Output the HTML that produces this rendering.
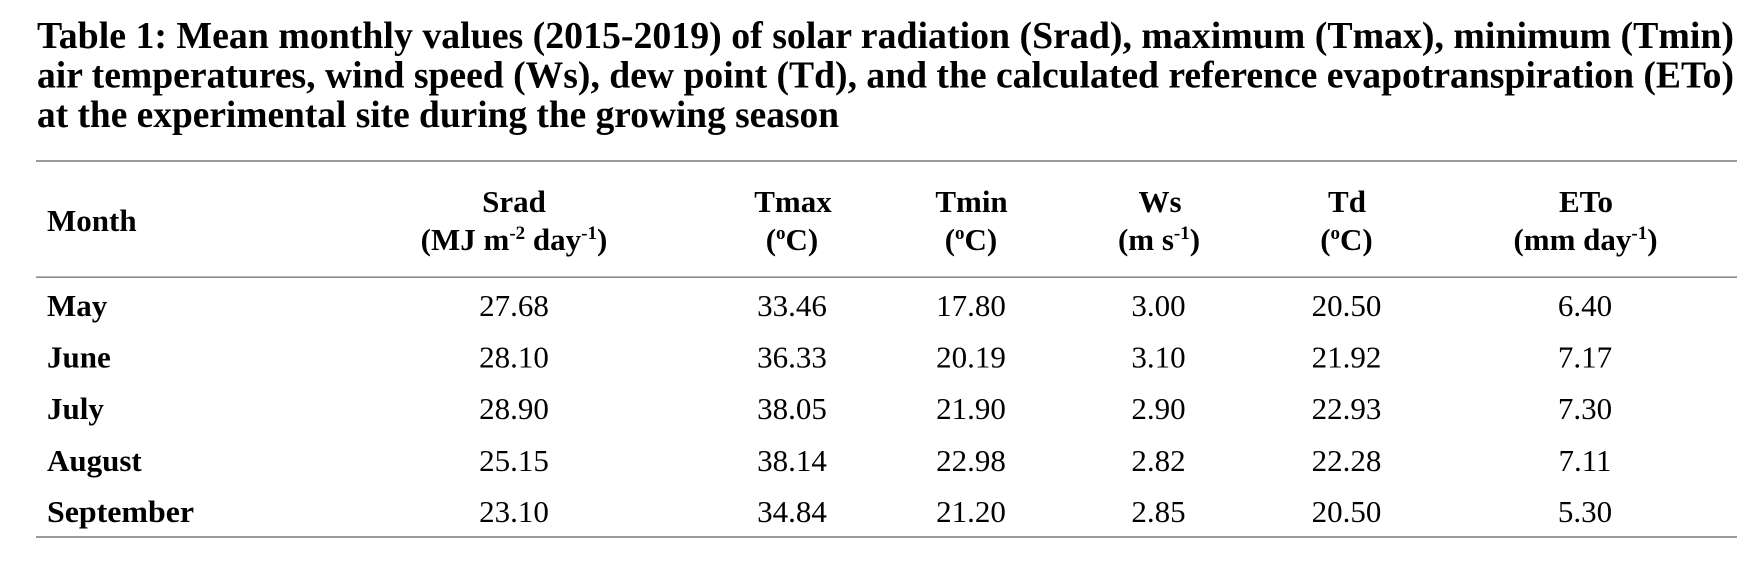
<!DOCTYPE html>
<html>
<head>
<meta charset="utf-8">
<style>
html,body{margin:0;padding:0;background:#fff;}
svg{display:block;}
.t{font-family:"Liberation Serif",serif;font-weight:bold;font-size:38px;fill:#000;}
.h{font-family:"Liberation Serif",serif;font-weight:bold;font-size:31px;fill:#000;}
.d{font-family:"Liberation Serif",serif;font-size:31px;fill:#000;}
</style>
</head>
<body>
<svg width="1752" height="562" viewBox="0 0 1752 562" xmlns="http://www.w3.org/2000/svg">
<rect width="1752" height="562" fill="#fff"/>
<!-- Title -->
<text class="t" x="37" y="48" textLength="1697" lengthAdjust="spacingAndGlyphs">Table 1: Mean monthly values (2015-2019) of solar radiation (Srad), maximum (Tmax), minimum (Tmin)</text>
<text class="t" x="37" y="87.5" textLength="1697" lengthAdjust="spacingAndGlyphs">air temperatures, wind speed (Ws), dew point (Td), and the calculated reference evapotranspiration (ETo)</text>
<text class="t" x="37" y="127" textLength="802" lengthAdjust="spacingAndGlyphs">at the experimental site during the growing season</text>

<!-- Rules -->
<rect x="36" y="160" width="1701" height="2" fill="#9a9a9a"/>
<rect x="36" y="276.5" width="1701" height="1.3" fill="#707070"/>
<rect x="36" y="536" width="1701" height="2" fill="#9a9a9a"/>

<!-- Header -->
<text class="h" x="47" y="231">Month</text>

<text class="h" x="514" y="212" text-anchor="middle">Srad</text>
<text class="h" x="514" y="250" text-anchor="middle">(MJ m<tspan font-size="19" dy="-11">-2</tspan><tspan dy="11"> day</tspan><tspan font-size="19" dy="-11">-1</tspan><tspan dy="11">)</tspan></text>

<text class="h" x="793" y="212" text-anchor="middle">Tmax</text>
<text class="h" x="792" y="250" text-anchor="middle">(<tspan font-size="19" dy="-11">o</tspan><tspan dy="11">C)</tspan></text>

<text class="h" x="971.5" y="212" text-anchor="middle">Tmin</text>
<text class="h" x="971" y="250" text-anchor="middle">(<tspan font-size="19" dy="-11">o</tspan><tspan dy="11">C)</tspan></text>

<text class="h" x="1160" y="212" text-anchor="middle">Ws</text>
<text class="h" x="1159" y="250" text-anchor="middle">(m s<tspan font-size="19" dy="-11">-1</tspan><tspan dy="11">)</tspan></text>

<text class="h" x="1347" y="212" text-anchor="middle">Td</text>
<text class="h" x="1346.5" y="250" text-anchor="middle">(<tspan font-size="19" dy="-11">o</tspan><tspan dy="11">C)</tspan></text>

<text class="h" x="1586" y="212" text-anchor="middle">ETo</text>
<text class="h" x="1585.5" y="250" text-anchor="middle">(mm day<tspan font-size="19" dy="-11">-1</tspan><tspan dy="11">)</tspan></text>

<!-- Rows -->
<g class="h">
<text class="h" x="47" y="316">May</text>
<text class="h" x="47" y="367.5">June</text>
<text class="h" x="47" y="419">July</text>
<text class="h" x="47" y="471">August</text>
<text class="h" x="47" y="522" textLength="147" lengthAdjust="spacingAndGlyphs">September</text>
</g>

<g text-anchor="middle">
<text class="d" x="514" y="316">27.68</text>
<text class="d" x="514" y="367.5">28.10</text>
<text class="d" x="514" y="419">28.90</text>
<text class="d" x="514" y="471">25.15</text>
<text class="d" x="514" y="522">23.10</text>

<text class="d" x="792" y="316">33.46</text>
<text class="d" x="792" y="367.5">36.33</text>
<text class="d" x="792" y="419">38.05</text>
<text class="d" x="792" y="471">38.14</text>
<text class="d" x="792" y="522">34.84</text>

<text class="d" x="971" y="316">17.80</text>
<text class="d" x="971" y="367.5">20.19</text>
<text class="d" x="971" y="419">21.90</text>
<text class="d" x="971" y="471">22.98</text>
<text class="d" x="971" y="522">21.20</text>

<text class="d" x="1158.5" y="316">3.00</text>
<text class="d" x="1158.5" y="367.5">3.10</text>
<text class="d" x="1158.5" y="419">2.90</text>
<text class="d" x="1158.5" y="471">2.82</text>
<text class="d" x="1158.5" y="522">2.85</text>

<text class="d" x="1346.5" y="316">20.50</text>
<text class="d" x="1346.5" y="367.5">21.92</text>
<text class="d" x="1346.5" y="419">22.93</text>
<text class="d" x="1346.5" y="471">22.28</text>
<text class="d" x="1346.5" y="522">20.50</text>

<text class="d" x="1585" y="316">6.40</text>
<text class="d" x="1585" y="367.5">7.17</text>
<text class="d" x="1585" y="419">7.30</text>
<text class="d" x="1585" y="471">7.11</text>
<text class="d" x="1585" y="522">5.30</text>
</g>
</svg>
</body>
</html>
